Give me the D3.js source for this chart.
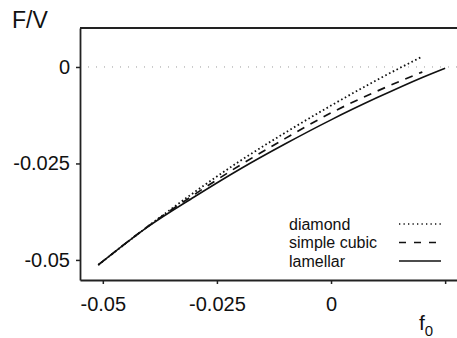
<!DOCTYPE html>
<html>
<head>
<meta charset="utf-8">
<script src="https://cdn.jsdelivr.net/npm/d3@7"></script>
<style>
  body { margin: 0; background: #fff; }
  svg { display: block; font-family: "Liberation Sans", Arial, sans-serif; }
</style>
</head>
<body>
<div id="chart"></div>
<script>
// values
const f0 = [-0.051, -0.04, -0.03, -0.02, -0.01, 0, 0.01, 0.02, 0.025]
const diamond = [-0.0513, -0.0412, -0.0325, -0.0244, -0.0170, -0.0100, -0.0034, 0.0027]
const simpleCubic = [-0.0513, -0.0412, -0.0331, -0.0255, -0.0185, -0.0119, -0.0063, -0.0013]
const lamellar = [-0.0513, -0.0413, -0.0337, -0.0265, -0.0199, -0.0137, -0.0080, -0.0027, -0.0003]
const xTicks = [-0.05, -0.025, 0, 0.025]
const xTickLabels = ['-0.05', '-0.025', '0', '']
const yTicks = [0, -0.025, -0.05]
const yTickLabels = ['0', '-0.025', '-0.05']
const seriesNames = ['diamond', 'simple cubic', 'lamellar']

const width = 457, height = 338
const plot = { left: 80, right: 457, top: 28, bottom: 280 }

const svg = d3.select('#chart').append('svg')
  .attr('width', width)
  .attr('height', height)

const x = d3.scaleLinear().domain([-0.055, 0.0276]).range([plot.left, plot.right])
const y = d3.scaleLinear().domain([-0.0552, 0.0101]).range([plot.bottom, plot.top])

// zero reference line
svg.append('line')
  .attr('x1', plot.left).attr('x2', plot.right)
  .attr('y1', y(0)).attr('y2', y(0))
  .attr('stroke', '#999').attr('stroke-width', 1)
  .attr('stroke-dasharray', '1,7')

// top frame line
svg.append('line')
  .attr('x1', plot.left).attr('x2', plot.right)
  .attr('y1', plot.top).attr('y2', plot.top)
  .attr('stroke', '#222').attr('stroke-width', 1.8)

const xAxis = svg.append('g')
  .attr('transform', 'translate(0,' + plot.bottom + ')')
  .call(d3.axisBottom(x).tickValues(xTicks).tickSize(4).tickSizeOuter(0).tickPadding(13)
    .tickFormat((d, i) => xTickLabels[i]))

const yAxis = svg.append('g')
  .attr('transform', 'translate(' + plot.left + ',0)')
  .call(d3.axisLeft(y).tickValues(yTicks).tickSize(4).tickSizeOuter(0).tickPadding(6)
    .tickFormat((d, i) => yTickLabels[i]))

;[xAxis, yAxis].forEach(g => {
  g.select('.domain').attr('stroke', '#222').attr('stroke-width', 1.8)
  g.selectAll('.tick line').attr('stroke', '#222').attr('stroke-width', 1.5)
  g.selectAll('.tick text')
    .attr('fill', '#111')
    .style('font-size', '20px')
    .style('font-family', '"Liberation Sans", Arial, sans-serif')
})

// curves
const styles = [
  { data: diamond, dash: '1.6,2.6', w: 1.8 },
  { data: simpleCubic, dash: '8,7', w: 1.7 },
  { data: lamellar, dash: null, w: 1.6 }
]

const line = d3.line()
  .x(d => x(d[0]))
  .y(d => y(d[1]))
  .curve(d3.curveMonotoneX)

styles.forEach(s => {
  const pts = s.data.map((v, i) => [f0[i], v])
  svg.append('path')
    .attr('d', line(pts))
    .attr('fill', 'none')
    .attr('stroke', '#111')
    .attr('stroke-width', s.w)
    .attr('stroke-dasharray', s.dash)
})

// legend
const legend = svg.append('g')
seriesNames.forEach((name, i) => {
  const yy = 224 + i * 18.5
  legend.append('text')
    .attr('x', 289).attr('y', yy + 5.5)
    .style('font-size', '16px')
    .attr('fill', '#111')
    .text(name)
  legend.append('line')
    .attr('x1', 399).attr('x2', 441)
    .attr('y1', yy).attr('y2', yy)
    .attr('stroke', '#111')
    .attr('stroke-width', i === 0 ? 1.3 : 1.4)
    .attr('stroke-dasharray', styles[i].dash === null ? null : (i === 0 ? '1.3,3.2' : '7,8'))
})

// axis titles
svg.append('text')
  .attr('x', 12).attr('y', 28)
  .style('font-size', '23px')
  .attr('fill', '#111')
  .text('F/V')

const xt = svg.append('text')
  .attr('x', 419).attr('y', 330)
  .style('font-size', '21px')
  .attr('fill', '#111')
xt.append('tspan').text('f')
xt.append('tspan').attr('dy', 6).style('font-size', '15px').text('0')
</script>
</body>
</html>
